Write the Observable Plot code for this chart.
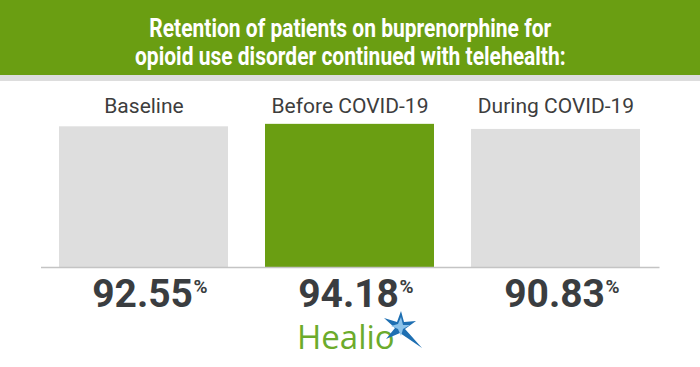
<!DOCTYPE html>
<html><head><meta charset="utf-8">
<script src="https://cdn.jsdelivr.net/npm/d3@7"></script>
<script src="https://cdn.jsdelivr.net/npm/@observablehq/plot@0.6"></script>
<style>
html,body{margin:0;padding:0;background:#fff}
body{width:700px;height:367px;overflow:hidden;position:relative;font-family:Roboto,sans-serif}
#header{height:75px;background:#6a9e12;color:#fff;text-align:center;font-weight:700;font-size:25px;line-height:28px;padding-top:15px;box-sizing:border-box}
#header .line span{display:inline-block;transform:scaleX(0.84);white-space:nowrap}
#stripe{height:6px;background:#dddddd}
#chart svg{display:block}
#logo{position:absolute;left:293px;top:310px}
</style>
</head><body>
<div id="header"></div>
<div id="stripe"></div>
<div id="chart"></div>
<svg id="logo" width="140" height="52" viewBox="0 0 140 52">
  <text x="4" y="39" font-family="'Open Sans', Lato, sans-serif" font-size="33" fill="#6cab2c">Healio</text>
  <g transform="translate(107,17)">
    <polygon points="1,-16 4,-5 16,-6 5,2 22,21 0,6 -14,12 -5,1 -16,-9 -3,-5" fill="#1e6fb2"/>
    <polygon points="1,-10 3,-2 10,-2 3,2 1,9 -2,2 -9,-1 -2,-3" fill="#8cc3ea"/>
  </g>
</svg>
<script>
const titleLines = ["Retention of patients on buprenorphine for", "opioid use disorder continued with telehealth:"];
const categories = ["Baseline", "Before COVID-19", "During COVID-19"];
const values = [92.55, 94.18, 90.83];
const highlighted = [false, true, false];

const header = document.getElementById("header");
titleLines.forEach(t => {
  const d = document.createElement("div");
  d.className = "line";
  const s = document.createElement("span");
  s.textContent = t;
  d.appendChild(s);
  header.appendChild(d);
});

const data = categories.map((c, i) => ({category: c, value: values[i], hi: highlighted[i]}));

const chart = Plot.plot({
  width: 700,
  height: 286,
  marginLeft: 58,
  marginRight: 59.5,
  marginTop: 34,
  marginBottom: 100,
  style: {fontFamily: "Roboto, sans-serif", background: "#fff"},
  x: {domain: categories, paddingInner: 0.18, paddingOuter: 0, axis: null},
  y: {domain: [0, 100], axis: null},
  color: {type: "identity"},
  marks: [
    Plot.barY(data, {x: "category", y: "value", fill: d => d.hi ? "#6a9e12" : "#dedede"}),
    Plot.ruleY([0], {stroke: "#c4c4c4", strokeWidth: 1.5, insetLeft: -17, insetRight: -19}),
    Plot.text(data, {x: "category", text: "category", frameAnchor: "top", lineAnchor: "bottom", dy: -2.3, fontSize: 21, fill: "#3d3d3d"}),
    Plot.text(data, {x: "category", text: d => d.value.toFixed(2), frameAnchor: "bottom", lineAnchor: "bottom", dy: 39.7, textAnchor: "end", dx: 49, fontSize: 39, fontWeight: 700, fill: "#3a3d40"}),
    Plot.text(data, {x: "category", text: () => "%", frameAnchor: "bottom", lineAnchor: "bottom", dy: 25, textAnchor: "start", dx: 49.5, fontSize: 19, fontWeight: 700, fill: "#3a3d40"})
  ]
});
document.getElementById("chart").appendChild(chart);
</script>
</body></html>
